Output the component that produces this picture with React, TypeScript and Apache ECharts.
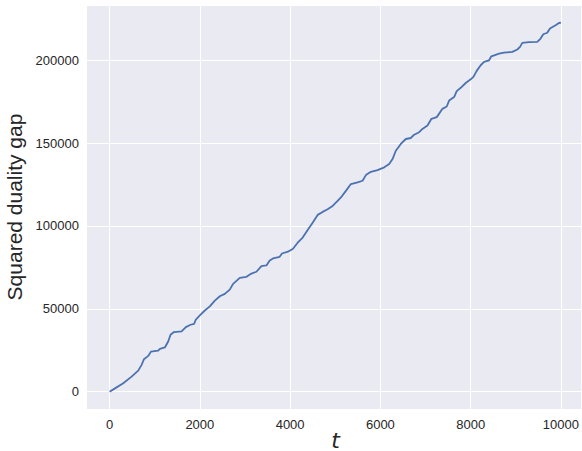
import React, { useEffect, useRef } from "react";
import * as echarts from "echarts";

const steps: number[] = [
  0, 120, 303, 488, 635, 710, 761, 857, 916, 1077, 1115, 1225, 1299, 1351, 1425, 1595, 1690, 1794, 1874, 1911,
  2000, 2110, 2221, 2332, 2442, 2553, 2663, 2737, 2885, 3033, 3143, 3254, 3364, 3475, 3548, 3621, 3769, 3820, 3953, 4064,
  4167, 4278, 4389, 4499, 4610, 4720, 4831, 4942, 5052, 5126, 5236, 5347, 5495, 5605, 5679, 5789, 5937, 6085, 6196, 6269,
  6342, 6453, 6563, 6674, 6748, 6859, 6932, 7043, 7132, 7249, 7375, 7470, 7523, 7634, 7691, 7780, 7890, 8001, 8061, 8134,
  8222, 8297, 8408, 8459, 8629, 8740, 8923, 9034, 9094, 9144, 9293, 9476, 9550, 9609, 9697, 9757, 9881, 9956, 10000,
];

const gap: number[] = [
  0, 2000, 5100, 9100, 12700, 16200, 19600, 21600, 24200, 24800, 25900, 26700, 30300, 34400, 36000, 36400, 39000, 40400, 41000, 43500,
  46000, 49000, 51500, 55000, 57600, 59000, 61600, 65100, 68700, 69300, 71300, 72400, 75800, 76200, 79200, 80400, 81400, 83400, 84500, 86300,
  89900, 93000, 97600, 102000, 106700, 108500, 110100, 112100, 115100, 117200, 121200, 125300, 126300, 127300, 130700, 132700, 133700, 135400, 137400, 140400,
  145400, 149500, 152500, 153100, 155100, 156600, 158600, 160600, 164700, 165700, 170700, 172100, 175700, 177800, 181400, 183400, 186300, 188500, 190000, 193600,
  197000, 199000, 200000, 202400, 204000, 204600, 205100, 206500, 208100, 210500, 210900, 211100, 213100, 215700, 216600, 219200, 221200, 222500, 222700,
];

const xLabel = "t";
const yLabel = "Squared duality gap";

export default function App() {
  const ref = useRef<HTMLDivElement>(null);
  useEffect(() => {
    if (!ref.current) return;
    const chart = echarts.init(ref.current, undefined, { renderer: "svg" });
    const font = "'Liberation Sans', Arial, sans-serif";
    const data = steps.map((s, i) => [s, gap[i]]);
    const fmt = (v: number) => String(v);
    chart.setOption({
      animation: false,
      backgroundColor: "#ffffff",
      grid: { left: 87, top: 6, right: 0, bottom: 42, show: true, backgroundColor: "#EAEAF2", borderWidth: 0 },
      xAxis: {
        type: "value",
        min: -500,
        max: 10450,
        splitNumber: 5,
        axisLine: { show: false },
        axisTick: { show: false },
        axisLabel: { color: "#262626", fontSize: 13, fontFamily: font, margin: 9, formatter: fmt, showMinLabel: false, showMaxLabel: false },
        splitLine: { show: true, showMinLine: false, showMaxLine: false, lineStyle: { color: "#ffffff", width: 1 } },
      },
      yAxis: {
        type: "value",
        min: -10440,
        max: 232760,
        splitNumber: 5,
        axisLine: { show: false },
        axisTick: { show: false },
        axisLabel: { color: "#262626", fontSize: 13, fontFamily: font, margin: 8, formatter: fmt, showMinLabel: false, showMaxLabel: false },
        splitLine: { show: true, showMinLine: false, showMaxLine: false, lineStyle: { color: "#ffffff", width: 1 } },
      },
      graphic: [
        {
          type: "text",
          x: 14,
          y: 207,
          rotation: Math.PI / 2,
          style: { text: yLabel, fill: "#262626", fontSize: 21, fontFamily: font, align: "center", verticalAlign: "middle" },
        },
        {
          type: "text",
          x: 335.5,
          y: 451,
          style: { text: xLabel, fill: "#262626", fontSize: 22, fontStyle: "italic", fontFamily: "'DejaVu Sans', sans-serif", align: "center", verticalAlign: "bottom" },
        },
      ],
      series: [
        {
          type: "line",
          data,
          showSymbol: false,
          symbol: "none",
          lineStyle: { color: "#4C72B0", width: 1.8 },
          clip: true,
        },
      ],
    });
    return () => chart.dispose();
  }, []);
  return <div ref={ref} style={{ position: "absolute", left: 0, top: 0, width: 582, height: 451 }} />;
}
